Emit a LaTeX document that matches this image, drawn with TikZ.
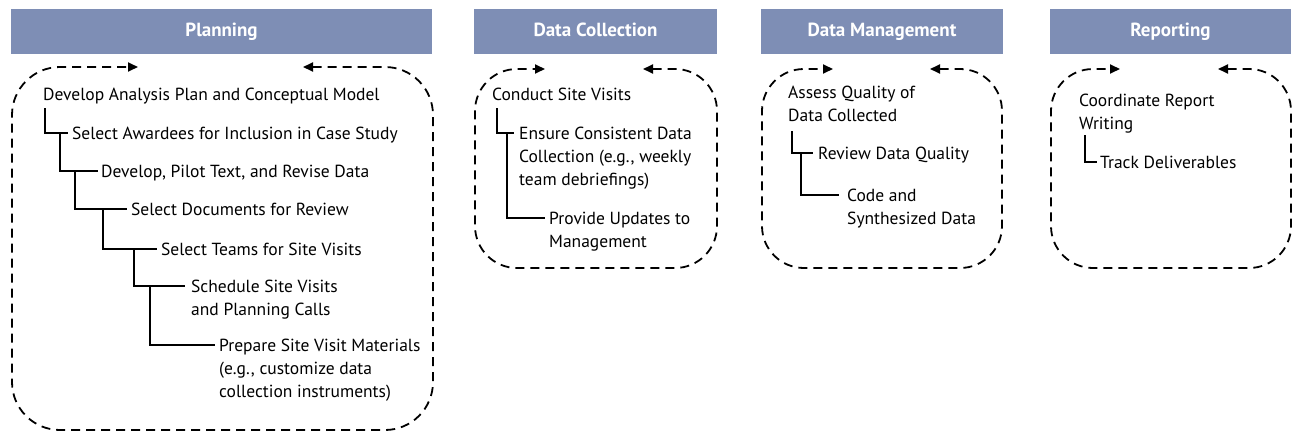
\documentclass[tikz,border=0pt]{standalone}
\usepackage{fontspec}
\setmainfont{PT Sans}
\usetikzlibrary{arrows.meta}
\definecolor{hdr}{RGB}{126,142,181}
\newcommand{\ml}[1]{\begin{tabular}[t]{@{}l@{}}#1\end{tabular}}
\begin{document}
\begin{tikzpicture}[x=1pt,y=-1pt,
  header/.style={fill=hdr,draw=none,text=white,font=\fontsize{19}{22}\selectfont\bfseries,minimum height=45pt,inner sep=0pt,text height=13pt,text depth=4pt},
  item/.style={anchor=base west,inner sep=0pt,font=\fontsize{17.5}{23}\selectfont},
  tree/.style={line width=2pt},
  loopbox/.style={line width=1.8pt,dash pattern=on 9pt off 6pt,{Triangle[length=10pt,width=9pt]}-{Triangle[length=10pt,width=9pt]}}
]
\useasboundingbox (0,0) rectangle (1294,434);

% headers
\node[header,minimum width=421pt] (hP) at (221.5,31.5) {Planning};
\node[header,minimum width=243pt] (hC) at (595.5,31.5) {Data Collection};
\node[header,minimum width=242pt] (hM) at (882,31.5) {Data Management};
\node[header,minimum width=241pt] (hR) at (1170.5,31.5) {Reporting};

% dashed loops
\coordinate (pTL) at (138,67); \coordinate (pTR) at (303,67);
\draw[loopbox,rounded corners=48pt] (pTR) -- (433,67) -- (433,430) -- (12,430) -- (12,67) -- (pTL);
\coordinate (cTL) at (545,69); \coordinate (cTR) at (643,69);
\draw[loopbox,rounded corners=42pt] (cTR) -- (717,69) -- (717,268) -- (475,268) -- (475,69) -- (cTL);
\coordinate (mTL) at (833,69); \coordinate (mTR) at (930,69);
\draw[loopbox,rounded corners=42pt] (mTR) -- (1002,69) -- (1002,268) -- (762,268) -- (762,69) -- (mTL);
\coordinate (rTL) at (1120,69); \coordinate (rTR) at (1218,69);
\draw[loopbox,rounded corners=42pt] (rTR) -- (1291,69) -- (1291,268) -- (1051,268) -- (1051,69) -- (rTL);

% Planning items
\node[item] (p0) at (43,100) {Develop Analysis Plan and Conceptual Model};
\node[item] (p1) at (72,139) {Select Awardees for Inclusion in Case Study};
\node[item] (p2) at (101,177) {Develop, Pilot Text, and Revise Data};
\node[item] (p3) at (131,215) {Select Documents for Review};
\node[item] (p4) at (161,255) {Select Teams for Site Visits};
\node[item] (p5) at (191,292) {\ml{Schedule Site Visits\\and Planning Calls}};
\node[item] (p6) at (219,351) {\ml{Prepare Site Visit Materials\\(e.g., customize data\\collection instruments)}};

\draw[tree] ([xshift=2pt,yshift=-8pt]p0.base west) |- ([xshift=-4pt,yshift=6.5pt]p1.base west);
\draw[tree] ([xshift=-12pt,yshift=6.5pt]p1.base west) |- ([xshift=-3pt,yshift=6.5pt]p2.base west);
\draw[tree] ([xshift=-26pt,yshift=6.5pt]p2.base west) |- ([xshift=-4pt,yshift=6.5pt]p3.base west);
\draw[tree] ([xshift=-28pt,yshift=6.5pt]p3.base west) |- ([xshift=-4pt,yshift=6.5pt]p4.base west);
\draw[tree] ([xshift=-27pt,yshift=6.5pt]p4.base west) |- ([xshift=-6pt,yshift=6.5pt]p5.base west);
\draw[tree] ([xshift=-41pt,yshift=6.5pt]p5.base west) |- ([xshift=-4pt,yshift=6.5pt]p6.base west);

% Data Collection items
\node[item] (c0) at (492,100) {Conduct Site Visits};
\node[item] (c1) at (519,139) {\ml{Ensure Consistent Data\\Collection (e.g., weekly\\team debriefings)}};
\node[item] (c2) at (549,224) {\ml{Provide Updates to\\Management}};
\draw[tree] ([xshift=5pt,yshift=-8pt]c0.base west) |- ([xshift=-5pt,yshift=6.5pt]c1.base west);
\draw[tree] ([xshift=-12pt,yshift=6.5pt]c1.base west) |- ([xshift=-4pt,yshift=6.5pt]c2.base west);

% Data Management items
\node[item] (m0) at (788,98) {\ml{Assess Quality of\\Data Collected}};
\node[item] (m1) at (818,159) {Review Data Quality};
\node[item] (m2) at (847,201) {\ml{Code and\\Synthesized Data}};
\draw[tree] ([xshift=4pt,yshift=-33pt]m0.base west) |- ([xshift=-5pt,yshift=6.5pt]m1.base west);
\draw[tree] ([xshift=-17pt,yshift=6.5pt]m1.base west) |- ([xshift=-8pt,yshift=6.5pt]m2.base west);

% Reporting items
\node[item] (r0) at (1079,106) {\ml{Coordinate Report\\Writing}};
\node[item] (r1) at (1100,168) {Track Deliverables};
\draw[tree] ([xshift=6pt,yshift=-29pt]r0.base west) |- ([xshift=-3pt,yshift=6.5pt]r1.base west);
\end{tikzpicture}
\end{document}
